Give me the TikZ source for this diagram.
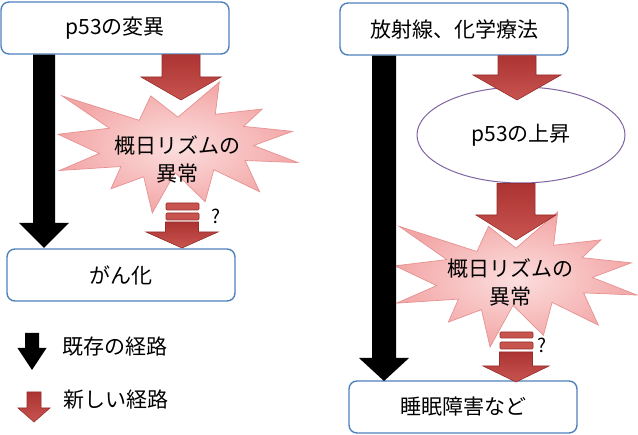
\documentclass[tikz,border=0pt]{standalone}
\usepackage{fontspec}
\setmainfont{Noto Sans CJK JP}
\usetikzlibrary{calc,shapes.geometric}
\definecolor{boxblue}{RGB}{79,129,189}
\definecolor{risepurple}{RGB}{128,100,162}
\definecolor{newtop}{RGB}{172,52,50}
\definecolor{newbot}{RGB}{200,84,80}
\definecolor{newedge}{RGB}{150,45,42}
\definecolor{burstedge}{RGB}{230,145,145}
\definecolor{burstin}{RGB}{252,222,222}
\definecolor{burstout}{RGB}{243,166,166}
% block arrow: style, tail (only its y is used), tip, half shaft, half head, head length
\newcommand{\blockarrow}[6][]{%
  \path[#1] let \p1=(#2), \p2=(#3) in
    (\x2-#4pt,\y1) -- (\x2-#4pt,\y2+#6pt) -- (\x2-#5pt,\y2+#6pt) -- (\p2)
    -- (\x2+#5pt,\y2+#6pt) -- (\x2+#4pt,\y2+#6pt) -- (\x2+#4pt,\y1) -- cycle;}
\newcommand{\explosion}[4]{%
  \pgfmathsetmacro{\bx}{#3/216}\pgfmathsetmacro{\by}{#4/216}%
  \begin{scope}[shift={(#1,#2)},x=\bx pt,y=-\by pt]
    \path[burst] (108,58) -- (145.22,0) -- (141.55,53.25) -- (183.8,44.57) -- (167.02,73.15)
      -- (210.97,81.37) -- (176.07,104.75) -- (216,132.9) -- (168.37,129.42) -- (181.45,180.95)
      -- (140.2,144.57) -- (132.47,197.37) -- (105.32,149.35) -- (84.85,216) -- (77.15,156.27)
      -- (47.62,176.17) -- (56.67,139.37) -- (1.35,145.87) -- (37.22,117.75) -- (0,86.15)
      -- (46.27,76.17) -- (3.7,22.95) -- (73.12,63.2) -- (83.52,22.95) -- cycle;
  \end{scope}}
\begin{document}
\begin{tikzpicture}[x=1pt,y=-1pt,
  every node/.style={font=\fontsize{21}{28}\selectfont},
  box/.style={draw=boxblue,line width=1.4pt,rounded corners=8pt,fill=white,
    minimum width=228pt,minimum height=52pt,inner sep=0pt},
  oldpath/.style={fill=black},
  newpath/.style={draw=newedge,line width=0.6pt,top color=newtop,bottom color=newbot},
  burst/.style={draw=burstedge,line width=0.7pt,inner color=burstin,outer color=burstout},
  stripe/.style={draw=newedge,line width=0.6pt,fill=newbot,rounded corners=1pt},
  qmark/.style={font=\fontsize{19}{19}\selectfont,inner sep=0pt}]
  \useasboundingbox (0,0) rectangle (638,435);
  \explosion{58}{82}{240}{131}
  \explosion{395}{212}{242}{135}
  \node[box] (mut) at (115,28) {p53の変異};
  \node[box] (cancer) at (121,275) {がん化};
  \node[box] (rad) at (454,29) {放射線、化学療法};
  \node[box] (sleep) at (463,407) {睡眠障害など};
  \node[draw=risepurple,line width=1pt,fill=white,ellipse,minimum width=208pt,
    minimum height=96pt,inner sep=0pt] (rise) at (521,135) {p53の上昇};
  \coordinate (tipL1) at (181,100);
  \coordinate (gapL) at (182,222);
  \coordinate (tipL2) at (182,248);
  \coordinate (tipR1) at (517,100);
  \coordinate (tipR2) at (516,240);
  \coordinate (gapR) at (516,352);
  \coordinate (tipR3) at (516,382);
  \coordinate (oldtipL) at (44,248);
  \coordinate (oldtipR) at (384,381);
  \blockarrow[newpath]{mut.south}{tipL1}{19}{40}{23}
  \blockarrow[newpath]{gapL}{tipL2}{16.5}{36}{16}
  \blockarrow[newpath]{rad.south}{tipR1}{19}{44}{25}
  \blockarrow[newpath]{rise.south}{tipR2}{19}{40}{25}
  \blockarrow[newpath]{gapR}{tipR3}{16.5}{33}{16}
  \blockarrow[oldpath]{mut.south}{oldtipL}{11}{25}{25}
  \blockarrow[oldpath]{rad.south}{oldtipR}{12}{25}{23}
  \draw[stripe] (166,203) rectangle (199,210);
  \draw[stripe] (166,213) rectangle (199,220);
  \draw[stripe] (500,332) rectangle (533,338);
  \draw[stripe] (500,342) rectangle (533,349);
  \node[align=center,inner sep=0pt] (rhythmL) at (177,159) {概日リズムの\\異常};
  \node[align=center,inner sep=0pt] (rhythmR) at (510,282) {概日リズムの\\異常};
  \node[qmark] (qL) at (216,216) {?};
  \node[qmark] (qR) at (542,345) {?};
  \coordinate (oldkey) at (32,333);
  \coordinate (oldkeytip) at (32,370);
  \coordinate (newkey) at (34,392);
  \coordinate (newkeytip) at (34,422);
  \blockarrow[oldpath]{oldkey}{oldkeytip}{7}{14.5}{22}
  \blockarrow[newpath]{newkey}{newkeytip}{7}{16}{14}
  \node[anchor=west,inner sep=0pt] (oldlbl) at (62,347) {既存の経路};
  \node[anchor=west,inner sep=0pt] (newlbl) at (63,400) {新しい経路};
\end{tikzpicture}
\end{document}
